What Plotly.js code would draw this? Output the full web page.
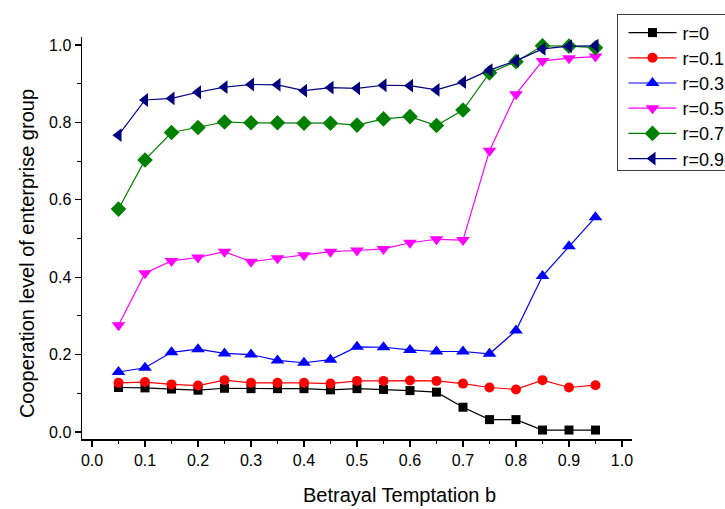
<!DOCTYPE html>
<html>
<head>
<meta charset="utf-8">
<script src="https://cdn.plot.ly/plotly-3.0.1.min.js"></script>
<style>html,body{margin:0;padding:0;background:#fff;overflow:hidden;}#chart{width:725px;height:509px;overflow:hidden;}</style>
</head>
<body>
<div id="chart"></div>
<script>
const bValues = [0.05,0.10,0.15,0.20,0.25,0.30,0.35,0.40,0.45,0.50,0.55,0.60,0.65,0.70,0.75,0.80,0.85,0.90,0.95];
const r0  = [0.115,0.114,0.111,0.108,0.113,0.112,0.112,0.112,0.109,0.112,0.110,0.107,0.103,0.064,0.032,0.032,0.005,0.005,0.005];
const r01 = [0.127,0.129,0.123,0.120,0.134,0.127,0.127,0.127,0.125,0.132,0.132,0.133,0.132,0.125,0.115,0.110,0.134,0.115,0.121];
const r03 = [0.155,0.166,0.206,0.214,0.203,0.200,0.185,0.179,0.187,0.220,0.219,0.212,0.208,0.208,0.202,0.262,0.403,0.480,0.555];
const r05 = [0.276,0.410,0.442,0.451,0.466,0.440,0.449,0.457,0.466,0.469,0.473,0.489,0.498,0.496,0.727,0.873,0.959,0.966,0.970];
const r07 = [0.576,0.703,0.774,0.787,0.801,0.799,0.799,0.798,0.798,0.793,0.809,0.815,0.792,0.832,0.928,0.957,0.998,0.997,0.993];
const r09 = [0.767,0.858,0.862,0.878,0.891,0.898,0.897,0.882,0.890,0.888,0.896,0.895,0.884,0.904,0.935,0.959,0.990,0.997,0.998];
const seriesNames = ['r=0','r=0.1','r=0.3','r=0.5','r=0.7','r=0.9'];
const xTickVals = [0,0.1,0.2,0.3,0.4,0.5,0.6,0.7,0.8,0.9,1.0];
const xTickText = ['0.0','0.1','0.2','0.3','0.4','0.5','0.6','0.7','0.8','0.9','1.0'];
const yTickVals = [0,0.2,0.4,0.6,0.8,1.0];
const yTickText = ['0.0','0.2','0.4','0.6','0.8','1.0'];
const xTitle = 'Betrayal Temptation b';
const yTitle = 'Cooperation level of enterprise group';

const FONT = 'Liberation Sans, Arial, sans-serif';
const styles = [
  {color:'#000000', symbol:'square', size:9},
  {color:'#FF0000', symbol:'circle', size:10},
  {color:'#0000FF', symbol:'triangle-up', size:12},
  {color:'#FF00FF', symbol:'triangle-down', size:12},
  {color:'#008000', symbol:'diamond', size:12},
  {color:'#000080', symbol:'triangle-left', size:12}
];
const allY = [r0, r01, r03, r05, r07, r09];
const traces = allY.map((ys, i) => ({
  x: bValues, y: ys, name: seriesNames[i], type: 'scatter', mode: 'lines+markers',
  line: {color: styles[i].color, width: 1.2},
  marker: {color: styles[i].color, symbol: styles[i].symbol, size: styles[i].size, line: {width: 0}}
}));

const layout = {
  width: 725, height: 509,
  margin: {l: 82, r: 93, t: 37, b: 70, autoexpand: false},
  paper_bgcolor: '#fff', plot_bgcolor: '#fff',
  font: {family: FONT, color: '#000', size: 16},
  showlegend: true,
  xaxis: {
    range: [-0.01887, 1.0189], tickmode: 'array',
    tickvals: xTickVals, ticktext: xTickText,
    ticks: 'outside', ticklen: 6, tickwidth: 1.2, tickcolor: '#000',
    minor: {dtick: 0.05, tick0: 0, ticks: 'outside', ticklen: 3.5, tickwidth: 1.2, tickcolor: '#000', showgrid: false},
    showline: true, linecolor: '#000', linewidth: 1.5, mirror: false,
    showgrid: false, zeroline: false, tickfont: {size: 16, family: FONT}
  },
  yaxis: {
    range: [-0.0181, 1.0207], tickmode: 'array',
    tickvals: yTickVals, ticktext: yTickText,
    ticks: 'outside', ticklen: 6, tickwidth: 1.2, tickcolor: '#000',
    minor: {dtick: 0.1, tick0: 0, ticks: 'outside', ticklen: 3.5, tickwidth: 1.2, tickcolor: '#000', showgrid: false},
    showline: true, linecolor: '#000', linewidth: 1.5, mirror: false,
    showgrid: false, zeroline: false, tickfont: {size: 16, family: FONT}
  },
  legend: {
    x: 0.9727, y: 1.057, xanchor: 'left', yanchor: 'top',
    bordercolor: '#404040', borderwidth: 1, bgcolor: '#fff',
    font: {size: 18, family: FONT, color: '#000'},
    tracegroupgap: 0
  },
  annotations: [
    {text: xTitle, xref: 'paper', yref: 'paper', x: 0.578, y: -0.139, xanchor: 'center', yanchor: 'middle',
     showarrow: false, font: {size: 20, family: FONT, color: '#000'}},
    {text: yTitle, xref: 'paper', yref: 'paper', x: -0.1, y: 0.46, xanchor: 'center', yanchor: 'middle',
     textangle: -90, showarrow: false, font: {size: 20, family: FONT, color: '#000'}}
  ]
};
Plotly.newPlot('chart', traces, layout, {displayModeBar: false, staticPlot: true}).then(gd => {
  // legend styled like the original: long line swatch, centred marker, tighter rows, box running off the right edge
  const bg = gd.querySelector('.legend rect.bg');
  if (!bg) return;
  const bb = bg.getBoundingClientRect();
  const L = bb.left, T = bb.top;
  bg.setAttribute('width', 300);
  bg.setAttribute('height', 156);
  document.querySelectorAll('clipPath[id^="legend"] rect').forEach(r => { r.setAttribute('width', 400); r.setAttribute('height', 400); });
  const rowGap = 25.2, firstRow = 18;
  gd.querySelectorAll('.legend g.traces').forEach((g, i) => {
    const tr = (g.getAttribute('transform') || '').match(/translate\(\s*([-\d.e]+)[ ,]+([-\d.e]+)\s*\)/);
    if (tr) {
      const m0 = g.getScreenCTM();
      const curY = m0 ? m0.f : 0;
      const wantY = T + firstRow + i * rowGap;
      g.setAttribute('transform', 'translate(' + tr[1] + ',' + (parseFloat(tr[2]) + wantY - curY) + ')');
    }
    const m = g.getScreenCTM();
    const ox = m ? m.e : 0;
    const ln = g.querySelector('path.js-line');
    if (ln) ln.setAttribute('d', 'M' + (L + 11 - ox) + ',0h48');
    const pt = g.querySelector('.legendpoints path.scatterpts');
    if (pt) pt.setAttribute('transform', 'translate(' + (L + 35 - ox) + ',0)');
    const tx = g.querySelector('text.legendtext');
    if (tx) tx.setAttribute('x', L + 65 - ox);
  });
});
</script>
</body>
</html>
